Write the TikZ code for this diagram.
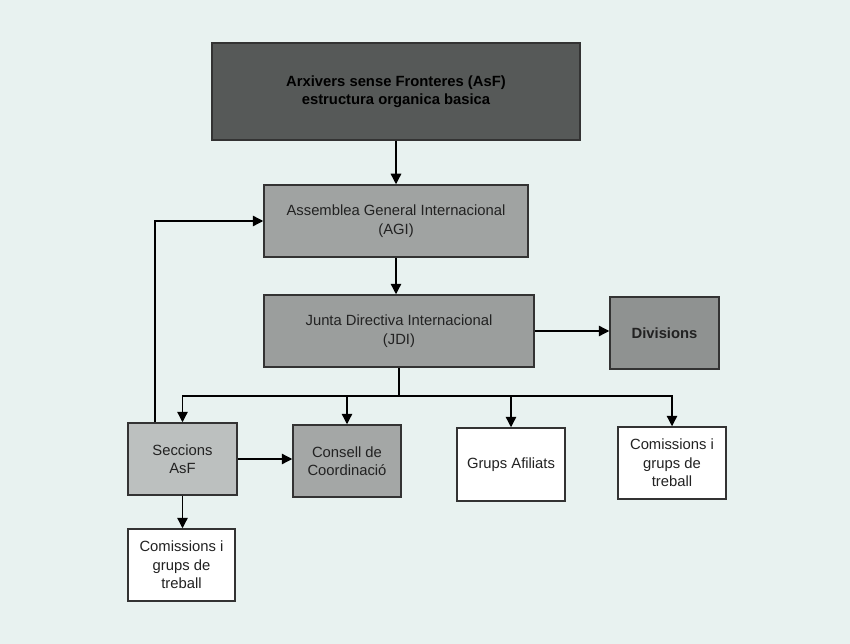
\documentclass[tikz,border=0pt]{standalone}
\usepackage{fontspec}
\setmainfont{Liberation Sans}
\usetikzlibrary{arrows.meta}
\definecolor{bgc}{HTML}{E8F2F0}
\definecolor{topc}{HTML}{565958}
\definecolor{agic}{HTML}{A0A3A2}
\definecolor{jdic}{HTML}{9B9E9D}
\definecolor{divc}{HTML}{8F9291}
\definecolor{secc}{HTML}{BCC0BF}
\definecolor{consc}{HTML}{A4A7A6}
\definecolor{edgec}{HTML}{333333}
\definecolor{txtc}{HTML}{222222}
\tikzset{
  box/.style={draw=edgec, line width=1.5pt, align=center, inner sep=2pt,
    text=txtc, font=\fontsize{14.8}{18.5}\selectfont},
  arr/.style={draw=black, line width=1.3pt, -{Triangle[length=10.5pt,width=10.5pt]}},
  ln/.style={draw=black, line width=1.3pt}
}
\begin{document}
\begin{tikzpicture}[x=1pt,y=-1pt]
\fill[bgc] (0,0) rectangle (850,644);
\useasboundingbox (0,0) rectangle (850,644);

\node[box, fill=topc, text=black, minimum width=368pt, minimum height=97pt, font=\fontsize{14.8}{18.5}\selectfont\bfseries]
  (top) at (396,91.5) {Arxivers sense Fronteres (AsF)\\estructura organica basica};
\node[box, fill=agic, minimum width=264pt, minimum height=72pt]
  (agi) at (396,221) {Assemblea General Internacional\\(AGI)};
\node[box, fill=jdic, minimum width=270pt, minimum height=72pt]
  (jdi) at (399,331) {Junta Directiva Internacional\\(JDI)};
\node[box, fill=divc, minimum width=109pt, minimum height=72pt, font=\fontsize{14.8}{18.5}\selectfont\bfseries]
  (div) at (664.5,333) {Divisions};
\node[box, fill=secc, minimum width=109pt, minimum height=72pt]
  (sec) at (182.5,459) {Seccions\\AsF};
\node[box, fill=consc, minimum width=108pt, minimum height=72pt]
  (cons) at (347,461) {Consell de\\Coordinació};
\node[box, fill=white, minimum width=108pt, minimum height=73pt]
  (grups) at (511,464.5) {Grups Afiliats};
\node[box, fill=white, minimum width=108pt, minimum height=72pt]
  (comr) at (672,463) {Comissions i\\grups de\\treball};
\node[box, fill=white, minimum width=107pt, minimum height=72pt]
  (comb) at (181.5,565) {Comissions i\\grups de\\treball};

\coordinate (bus) at (399,396);

\draw[arr] (top.south) -- (agi.north);
\draw[arr] (agi.south) -- (agi.south |- jdi.north);
\draw[arr] (jdi.east) -- (jdi.east -| div.west);
\draw[ln] (jdi.south) -- (bus);
\draw[arr] (bus) -| (sec.north);
\draw[arr] (bus) -| (cons.north);
\draw[arr] (bus) -| (grups.north);
\draw[arr] (bus) -| (comr.north);
\draw[arr] (sec.east) -- (sec.east -| cons.west);
\draw[arr] (sec.south) -- (sec.south |- comb.north);
\draw[arr] ([xshift=-27.5pt]sec.north) |- (agi.west);
\end{tikzpicture}
\end{document}
